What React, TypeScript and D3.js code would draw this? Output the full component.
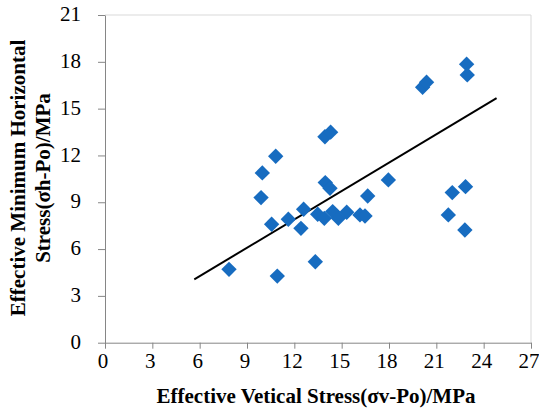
import React, { useEffect, useRef } from 'react';
import * as d3 from 'd3';

// effective vertical stress (σv-Po), MPa
const vertStress = [
  7.86, 10.92, 13.33, 9.89, 9.97, 10.82, 10.56, 11.62, 12.42, 12.59, 13.48,
  13.9, 13.94, 14.3, 13.96, 14.26, 14.43, 14.79, 15.32, 16.16, 16.48, 16.65,
  17.96, 20.13, 20.38, 22.92, 22.96, 22.01, 22.85, 21.76, 22.81,
];
// effective minimum horizontal stress (σh-Po), MPa
const horizStress = [
  4.7, 4.27, 5.19, 9.3, 10.88, 11.95, 7.59, 7.91, 7.33, 8.55, 8.23,
  7.97, 13.2, 13.49, 10.26, 9.9, 8.4, 7.97, 8.36, 8.19, 8.12, 9.4,
  10.43, 16.37, 16.69, 17.85, 17.16, 9.62, 10.0, 8.19, 7.22,
];
// linear trend line ends
const trendX = [5.66, 24.82];
const trendY = [4.06, 15.67];

const xTicks = [0, 3, 6, 9, 12, 15, 18, 21, 24, 27];
const yTicks = [0, 3, 6, 9, 12, 15, 18, 21];

const xTitle = 'Effective Vetical Stress(σv-Po)/MPa';
const yTitle = ['Effective Minimum Horizontal', 'Stress(σh-Po)/MPa'];

const App = () => {
  const node = useRef<SVGSVGElement | null>(null);

  useEffect(() => {
    const svg = d3.select(node.current);
    svg.selectAll('*').remove();

    const left = 105, right = 531, top = 15, bottom = 342.7;
    const font = '"Liberation Serif", "Times New Roman", serif';

    const xScale = d3.scaleLinear().domain([0, 27]).range([left, right]);
    const yScale = d3.scaleLinear().domain([0, 21]).range([bottom, top]);

    // plot area border (light)
    svg.append('path')
      .attr('d', `M${left},${top}H${right}V${bottom}`)
      .attr('fill', 'none')
      .attr('stroke', '#d9d9d9')
      .attr('stroke-width', 1);

    const xAxis = svg.append('g')
      .attr('transform', `translate(0,${bottom})`)
      .call(d3.axisBottom(xScale).tickValues(xTicks).tickSize(6).tickPadding(4).tickSizeOuter(0));
    const yAxis = svg.append('g')
      .attr('transform', `translate(${left},0)`)
      .call(d3.axisLeft(yScale).tickValues(yTicks).tickSize(7).tickPadding(17).tickSizeOuter(0));

    [xAxis, yAxis].forEach(ax => {
      ax.select('.domain').attr('stroke', '#868686');
      ax.selectAll('.tick line').attr('stroke', '#868686');
      ax.selectAll('.tick text')
        .attr('fill', '#000')
        .style('font-family', font)
        .style('font-size', '21px');
    });
    xAxis.selectAll('.tick text').attr('dx', -2.5);
    yAxis.selectAll('.tick text').attr('dy', '0.27em');

    // trend line
    const line = d3.line<number>()
      .x(d => xScale(d))
      .y((d, i) => yScale(trendY[i]));
    svg.append('path')
      .datum(trendX)
      .attr('d', line)
      .attr('fill', 'none')
      .attr('stroke', '#000')
      .attr('stroke-width', 2);

    // diamond markers
    const diamond = d3.symbol().type(d3.symbolSquare).size(118);
    svg.selectAll('.pt')
      .data(vertStress)
      .enter()
      .append('path')
      .attr('class', 'pt')
      .attr('d', diamond)
      .attr('transform', (d, i) => `translate(${xScale(d)},${yScale(horizStress[i])}) rotate(45)`)
      .attr('fill', '#176cc0');

    svg.append('text')
      .attr('x', 316)
      .attr('y', 403)
      .attr('text-anchor', 'middle')
      .style('font-family', font)
      .style('font-weight', 'bold')
      .style('font-size', '21px')
      .text(xTitle);

    svg.selectAll('.ytitle')
      .data(yTitle)
      .enter()
      .append('text')
      .attr('class', 'ytitle')
      .attr('text-anchor', 'middle')
      .attr('dy', '0.35em')
      .attr('transform', (d, i) => `translate(${18 + i * 25},178) rotate(-90)`)
      .style('font-family', font)
      .style('font-weight', 'bold')
      .style('font-size', '21px')
      .text(d => d);
  }, []);

  return (
    <svg
      ref={node}
      width={539}
      height={411}
      style={{ position: 'absolute', left: 0, top: 0, background: '#fff' }}
    />
  );
};

export default App;
